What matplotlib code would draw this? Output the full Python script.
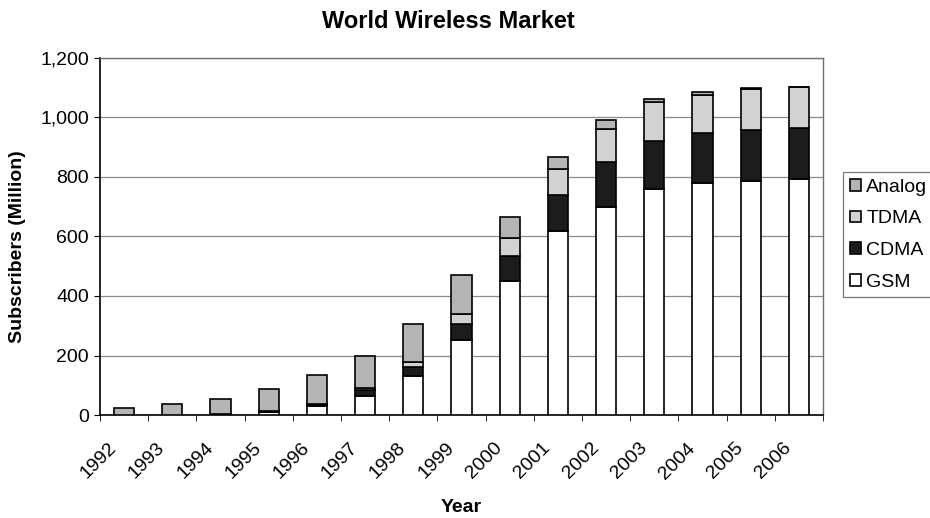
import matplotlib
matplotlib.use("Agg")
import matplotlib.pyplot as plt
import matplotlib.transforms as mtransforms
from matplotlib.ticker import FuncFormatter, MultipleLocator
import numpy as np

plt.rcParams['font.family'] = ['Liberation Sans', 'DejaVu Sans']

# data (million subscribers)
years = ['1992', '1993', '1994', '1995', '1996', '1997', '1998', '1999',
         '2000', '2001', '2002', '2003', '2004', '2005', '2006']
gsm = [0, 0, 2, 11, 30, 65, 132, 252, 451, 620, 700, 759, 779, 788, 793]
cdma = [0, 0, 0, 0, 3, 19, 30, 54, 83, 119, 149, 163, 168, 170, 171]
tdma = [0, 0, 1, 2, 4, 6, 17, 33, 62, 87, 111, 129, 129, 139, 140]
analog = [24, 37, 51, 75, 97, 109, 127, 132, 68, 42, 33, 12, 11, 2, 0]

series = [('GSM', gsm, 'white'), ('CDMA', cdma, '#1c1c1c'),
          ('TDMA', tdma, '#d2d2d2'), ('Analog', analog, '#b4b4b4')]

fig = plt.figure(figsize=(9.3, 5.18), dpi=100)
ax = fig.add_axes([100 / 930, 1 - 415 / 518, 723 / 930, 357 / 518])

x = np.arange(len(years))
bottom = np.zeros(len(years))
handles = {}
for name, vals, col in series:
    b = ax.bar(x, vals, 0.42, bottom=bottom, color=col, edgecolor='black',
               linewidth=1.2, zorder=3, label=name)
    handles[name] = b
    bottom += np.array(vals)

ax.set_xlim(-0.5, len(years) - 0.5)
ax.set_ylim(0, 1200)
ax.yaxis.set_major_locator(MultipleLocator(200))
ax.yaxis.set_major_formatter(FuncFormatter(lambda v, p: f'{int(v):,}'))
ax.grid(axis='y', color='#8a8a8a', linewidth=0.9, zorder=0)

ax.set_xticks(x)
ax.set_xticklabels(years, rotation=45, ha='right', va='center',
                   rotation_mode='anchor')
ax.set_xticks(np.arange(len(years) + 1) - 0.5, minor=True)
ax.tick_params(axis='x', which='major', length=0, pad=22, labelsize=14)
ax.tick_params(axis='x', which='minor', length=4, direction='out')
ax.tick_params(axis='y', length=4, direction='out', labelsize=14, pad=4)
shift = mtransforms.ScaledTranslation(-0.10, 0, fig.dpi_scale_trans)
for lab in ax.get_xticklabels():
    lab.set_transform(lab.get_transform() + shift)

for s in ['left', 'bottom']:
    ax.spines[s].set_color('black')
    ax.spines[s].set_linewidth(1.2)
for s in ['top', 'right']:
    ax.spines[s].set_color('#707070')
    ax.spines[s].set_linewidth(1.0)

fig.text(448 / 930, 1 - 22 / 518, 'World Wireless Market', ha='center',
         va='center', fontsize=17, fontweight='bold')
fig.text(461 / 930, 1 - 508 / 518, 'Year', ha='center', va='center',
         fontsize=14, fontweight='bold')
fig.text(18 / 930, 1 - 247 / 518, 'Subscribers (Million)', ha='center',
         va='center', rotation=90, fontsize=14, fontweight='bold')

order = ['Analog', 'TDMA', 'CDMA', 'GSM']
leg = fig.legend([handles[n] for n in order], order, loc='upper left',
                 bbox_to_anchor=(843 / 930, 1 - 172 / 518), fontsize=14,
                 frameon=True, fancybox=False, edgecolor='#555555',
                 handlelength=0.55, handleheight=0.55, handletextpad=0.3,
                 borderpad=0.35, labelspacing=0.75, borderaxespad=0)
leg.get_frame().set_linewidth(0.9)

fig.savefig('out.png', dpi=100)
